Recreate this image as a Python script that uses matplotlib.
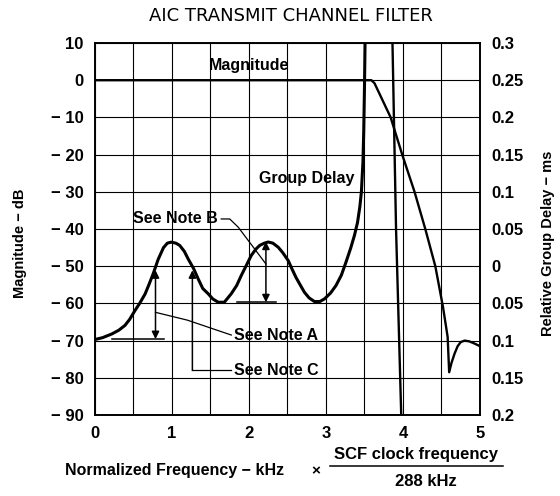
import matplotlib
matplotlib.use("Agg")
import matplotlib.pyplot as plt
from matplotlib.lines import Line2D

plt.rcParams['font.family'] = ['Liberation Sans', 'DejaVu Sans']

# magnitude response (dB) vs normalized frequency (kHz)
mag_freq = [0.0, 1.0, 2.0, 3.0, 3.55, 3.59, 3.63, 3.84, 3.99, 4.15, 4.29, 4.42, 4.52, 4.58,
            4.60, 4.63, 4.67, 4.71, 4.75, 4.80, 4.86, 4.93, 5.0]
mag_db = [0.0, 0.0, 0.0, 0.0, 0.0, 0.0, -0.8, -10.0, -20.0, -30.0, -40.0, -50.0, -61.0, -69.0,
          -78.5, -76.0, -73.5, -71.5, -70.4, -70.0, -70.2, -70.8, -71.5]

# relative group delay (ms), first branch up to the pole near 3.5 kHz
gd_freq = [0.0, 0.10, 0.22, 0.31, 0.39, 0.45, 0.52, 0.58, 0.65, 0.70, 0.76, 0.82, 0.89, 0.94,
           0.99, 1.05, 1.10, 1.16, 1.21, 1.28, 1.34, 1.40, 1.47, 1.53, 1.60, 1.68, 1.77, 1.84,
           1.90, 1.97, 2.03, 2.09, 2.14, 2.20, 2.25, 2.31, 2.38, 2.44, 2.51, 2.56, 2.61, 2.67,
           2.72, 2.78, 2.85, 2.92, 2.98, 3.06, 3.13, 3.20, 3.26, 3.32, 3.37, 3.41, 3.44, 3.46,
           3.48, 3.49, 3.50, 3.51]
gd_ms = [-0.0985, -0.096, -0.091, -0.086, -0.0795, -0.0715, -0.0595, -0.050, -0.0375, -0.025,
         -0.009, 0.009, 0.025, 0.031, 0.0323, 0.031, 0.028, 0.020, 0.0098, -0.003, -0.017,
         -0.030, -0.037, -0.044, -0.0484, -0.0484, -0.037, -0.026, -0.0125, 0.002, 0.0145, 0.023,
         0.028, 0.031, 0.0325, 0.031, 0.0255, 0.018, 0.0075, -0.004, -0.015, -0.026, -0.035,
         -0.0425, -0.0475, -0.0475, -0.044, -0.036, -0.026, -0.012, 0.0055, 0.024, 0.0415,
         0.059, 0.08, 0.10, 0.14, 0.18, 0.24, 0.32]
# second branch coming back down after the pole
gd2_freq = [3.86, 3.91, 3.98]
gd2_ms = [0.32, 0.05, -0.21]

left_ticks = [10, 0, -10, -20, -30, -40, -50, -60, -70, -80, -90]
left_labels = ['10', '0', '\u2212 10', '\u2212 20', '\u2212 30', '\u2212 40', '\u2212 50',
               '\u2212 60', '\u2212 70', '\u2212 80', '\u2212 90']
right_ticks = [0.3, 0.25, 0.2, 0.15, 0.1, 0.05, 0.0, -0.05, -0.1, -0.15, -0.2]
right_labels = ['0.3', '0.25', '0.2', '0.15', '0.1', '0.05', '0', '0.05', '0.1', '0.15', '0.2']

fig = plt.figure(figsize=(5.6, 4.96), dpi=100)
ax = fig.add_axes([0.1696, 0.1633, 0.6875, 0.75])
ax2 = ax.twinx()

ax.set_xlim(0, 5)
ax.set_ylim(-90, 10)
ax2.set_ylim(-0.2, 0.3)

ax.set_xticks([i * 0.5 for i in range(11)])
ax.set_xticklabels(['0', '', '1', '', '2', '', '3', '', '4', '', '5'],
                   fontsize=12, fontweight='bold')
ax.set_yticks(left_ticks)
ax.set_yticklabels(left_labels, fontsize=12, fontweight='bold')
ax2.set_yticks(right_ticks)
ax2.set_yticklabels(right_labels, fontsize=12, fontweight='bold')
ax.tick_params(length=0, pad=8)
ax2.tick_params(length=0, pad=8)
ax.grid(True, color='black', lw=0.8)
for a in (ax, ax2):
    for s in a.spines.values():
        s.set_linewidth(1.2)

ax.plot(mag_freq, mag_db, color='black', lw=1.7, solid_joinstyle='round')
ax2.plot(gd_freq, gd_ms, color='black', lw=2.2, solid_joinstyle='round')
ax2.plot(gd2_freq, gd2_ms, color='black', lw=1.7)

# text labels on the curves
ax.text(2.0, 4.0, 'Magnitude', fontsize=11.5, fontweight='bold', ha='center', va='center')
ax.text(2.75, -26.5, 'Group Delay', fontsize=11.5, fontweight='bold', ha='center', va='center')

arrow_kw = dict(color='black', lw=1.1, mutation_scale=11, shrinkA=0, shrinkB=0)

# Note A
ax.annotate('', xy=(0.786, -51.1), xytext=(0.786, -69.6),
            arrowprops=dict(arrowstyle='<|-|>', **arrow_kw))
ax.add_line(Line2D([0.22, 0.90], [-69.6, -69.6], color='black', lw=1.1))
ax.add_line(Line2D([0.786, 1.2, 1.77], [-62.4, -64.5, -68.5], color='black', lw=0.9))
ax.text(1.80, -68.5, 'See Note A', fontsize=11.5, fontweight='bold', ha='left', va='center')

# Note C
ax.annotate('', xy=(1.265, -51.1), xytext=(1.265, -78.0),
            arrowprops=dict(arrowstyle='-|>', **arrow_kw))
ax.add_line(Line2D([1.265, 1.77], [-78.0, -78.0], color='black', lw=0.9))
ax.text(1.80, -78.0, 'See Note C', fontsize=11.5, fontweight='bold', ha='left', va='center')

# Note B
ax.annotate('', xy=(2.22, -43.4), xytext=(2.22, -59.7),
            arrowprops=dict(arrowstyle='<|-|>', **arrow_kw))
ax.add_line(Line2D([1.84, 2.35], [-59.7, -59.7], color='black', lw=1.1))
ax.add_line(Line2D([1.64, 1.75, 1.86, 2.22], [-37.3, -37.3, -39.5, -49.4], color='black', lw=0.9))
ax.text(1.60, -37.3, 'See Note B', fontsize=11.5, fontweight='bold', ha='right', va='center')

# title and axis labels
fig.text(0.52, 0.967, 'AIC TRANSMIT CHANNEL FILTER', fontsize=13, ha='center', va='center',
         family='DejaVu Sans')
fig.text(0.036, 0.51, 'Magnitude \u2212 dB', fontsize=10.5, fontweight='bold', rotation=90,
         ha='center', va='center')
fig.text(0.978, 0.51, 'Relative Group Delay \u2212 ms', fontsize=10.5, fontweight='bold',
         rotation=90, ha='center', va='center')

fig.text(65 / 560, 1 - 471 / 496, 'Normalized Frequency \u2212 kHz', fontsize=11.5,
         fontweight='bold', ha='left', va='center')
fig.text(316 / 560, 1 - 471 / 496, '\u00d7', fontsize=11, fontweight='bold',
         ha='center', va='center')
fig.text(416 / 560, 1 - 455 / 496, 'SCF clock frequency', fontsize=12, fontweight='bold',
         ha='center', va='center')
fig.text(426 / 560, 1 - 481 / 496, '288 kHz', fontsize=12, fontweight='bold',
         ha='center', va='center')
fig.add_artist(Line2D([330 / 560, 503 / 560], [1 - 466 / 496, 1 - 466 / 496],
                      color='black', lw=1.1, transform=fig.transFigure))

fig.savefig('out.png', dpi=100)
